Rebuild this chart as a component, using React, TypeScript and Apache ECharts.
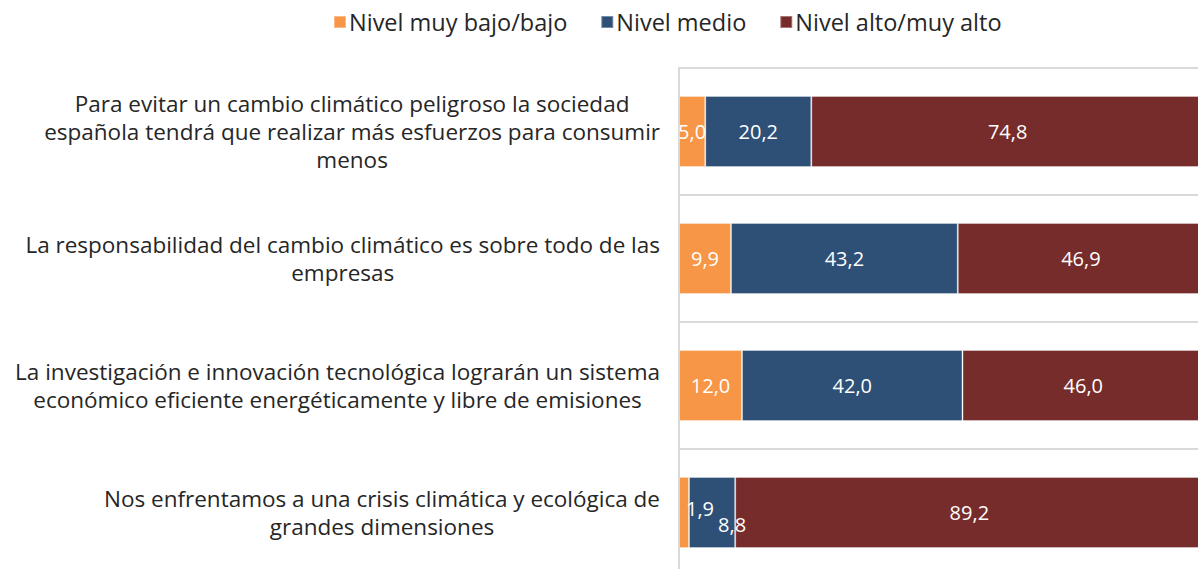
import React, { useEffect, useRef } from "react";
import * as echarts from "echarts";

const categories = [
  "Para evitar un cambio climático peligroso la sociedad\nespañola tendrá que realizar más esfuerzos para consumir\nmenos",
  "La responsabilidad del cambio climático es sobre todo de las\nempresas",
  "La investigación e innovación tecnológica lograrán un sistema\neconómico eficiente energéticamente y libre de emisiones",
  "Nos enfrentamos a una crisis climática y ecológica de\ngrandes dimensiones",
];
const seriesNames = ["Nivel muy bajo/bajo", "Nivel medio", "Nivel alto/muy alto"];
const lowValues = [5.0, 9.9, 12.0, 1.9];
const midValues = [20.2, 43.2, 42.0, 8.8];
const highValues = [74.8, 46.9, 46.0, 89.2];
const colors = ["#F79646", "#2E4F76", "#772C2C"];

const FONT = "Open Sans";

const fmt = (v: number) => v.toFixed(1).replace(".", ",");

export default function App() {
  const ref = useRef<HTMLDivElement>(null);
  useEffect(() => {
    if (!ref.current) return;
    const chart = echarts.init(ref.current, null, { renderer: "svg" });
    const labelBase = {
      show: true,
      position: "inside",
      color: "#ffffff",
      fontSize: 20,
      fontFamily: FONT,
      formatter: (p: any) => fmt(p.value),
    };
    const makeData = (vals: number[], offsets: Record<number, number[]>) =>
      vals.map((v, i) =>
        offsets[i] ? { value: v, label: { offset: offsets[i] } } : v
      );
    const allValues = [lowValues, midValues, highValues];
    const offsetsPer: Record<number, number[]>[] = [{ 3: [16, -4] }, { 3: [20, 12] }, {}];
    chart.setOption({
      animation: false,
      textStyle: { fontFamily: FONT },
      legend: {
        top: 10,
        left: 333,
        padding: 0,
        itemWidth: 12,
        itemHeight: 12,
        itemGap: 33,
        icon: "rect",
        textStyle: { fontSize: 23.5, color: "#262626", fontFamily: FONT, padding: [0, 0, 0, -2] },
        data: seriesNames,
      },
      grid: { left: 679, top: 68, width: 525, height: 508, outerBoundsMode: "none", containLabel: false },
      xAxis: {
        type: "value",
        min: 0,
        max: 100,
        show: false,
      },
      yAxis: {
        type: "category",
        inverse: true,
        data: categories,
        axisLine: { show: true, lineStyle: { color: "#d9d9d9", width: 2 } },
        axisTick: { show: false },
        splitLine: { show: true, lineStyle: { color: "#d9d9d9", width: 2 } },
        axisLabel: {
          align: "right",
          margin: 19,
          color: "#262626",
          fontSize: 22.5,
          fontFamily: FONT,
          lineHeight: 28,
          formatter: (v: string) =>
            v
              .split("\n")
              .map((l) => `{c|${l}}`)
              .join("\n"),
          rich: {
            c: {
              align: "center",
              fontSize: 22.5,
              lineHeight: 28,
              color: "#262626",
              fontFamily: FONT,
            },
          },
        },
      },
      series: seriesNames.map((name, si) => ({
        name,
        type: "bar",
        stack: "total",
        barWidth: "56%",
        itemStyle: {
          color: colors[si],
          borderColor: "rgba(255,255,255,0.35)",
          borderWidth: 1,
        },
        label: labelBase,
        data: makeData(allValues[si], offsetsPer[si]),
      })),
    });
    return () => chart.dispose();
  }, []);
  return (
    <div
      ref={ref}
      style={{ position: "absolute", left: 0, top: 0, width: 1198, height: 569 }}
    />
  );
}
